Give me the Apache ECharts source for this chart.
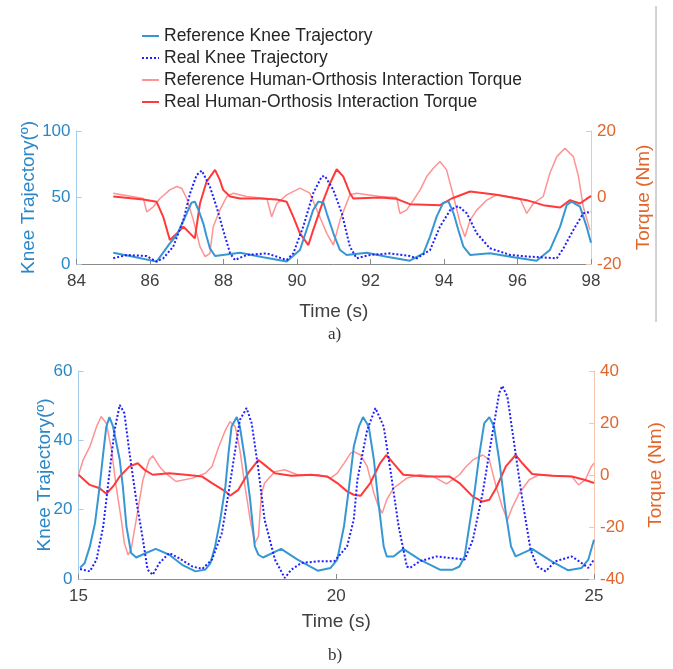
<!DOCTYPE html>
<html>
<head>
<meta charset="utf-8">
<script src="https://cdn.jsdelivr.net/npm/echarts@6/dist/echarts.min.js"></script>
<style>
  html, body { margin: 0; padding: 0; background: #fff; }
  #chart { width: 673px; height: 669px; }
</style>
</head>
<body>
<div id="chart"></div>
<script>
// ---- panel a) 84 - 98 s ----
const aRefKneeT = [85.00, 85.55, 86.18, 86.54, 86.73, 87.00, 87.13, 87.22, 87.32, 87.45, 87.54, 87.63, 87.77, 88.45, 89.08, 89.72, 90.08, 90.26, 90.44, 90.58, 90.72, 90.81, 90.99, 91.17, 91.35, 91.90, 92.44, 93.07, 93.44, 93.62, 93.80, 93.98, 94.12, 94.26, 94.39, 94.53, 94.71, 95.25, 95.89, 96.52, 96.88, 97.16, 97.34, 97.47, 97.70, 97.88, 98.00];
const aRefKneeV = [8.5, 5.5, 1.8, 15.5, 21.8, 38.1, 46.1, 46.9, 40.6, 30.6, 20.6, 11.8, 6.0, 8.5, 5.0, 1.8, 10.5, 25.6, 40.6, 46.9, 46.1, 38.1, 23.1, 10.5, 6.8, 8.5, 5.5, 2.5, 8.0, 20.6, 35.6, 46.1, 47.1, 38.1, 25.6, 13.0, 6.8, 8.0, 5.0, 2.5, 10.5, 28.1, 44.4, 46.9, 43.1, 28.1, 16.0];

const aRealKneeT = [85.00, 85.37, 85.91, 86.18, 86.36, 86.63, 86.91, 87.09, 87.27, 87.41, 87.63, 87.81, 87.99, 88.18, 88.31, 88.63, 89.18, 89.72, 89.90, 90.17, 90.44, 90.67, 90.76, 90.99, 91.22, 91.44, 91.62, 91.99, 92.53, 93.07, 93.26, 93.62, 93.89, 94.17, 94.39, 94.62, 94.89, 95.25, 95.80, 96.34, 97.07, 97.25, 97.52, 97.79, 98.00];
const aRealKneeV = [4.3, 6.8, 6.0, 1.8, 4.3, 13.0, 33.1, 53.1, 66.9, 70.2, 58.1, 43.1, 25.6, 8.0, 3.0, 6.8, 8.0, 3.0, 8.0, 28.1, 53.1, 65.7, 66.2, 55.6, 38.1, 13.0, 4.3, 6.8, 8.0, 6.0, 4.3, 10.5, 28.1, 40.6, 43.6, 38.1, 23.1, 11.8, 6.8, 5.5, 4.3, 11.8, 25.6, 38.1, 39.3];

const aRefTorqueT = [85.00, 85.82, 85.91, 86.09, 86.27, 86.54, 86.73, 86.86, 87.00, 87.18, 87.36, 87.50, 87.63, 87.72, 87.90, 88.09, 88.27, 88.63, 89.18, 89.31, 89.45, 89.72, 90.08, 90.35, 90.58, 90.81, 90.99, 91.17, 91.44, 91.62, 92.26, 92.71, 92.80, 92.98, 93.17, 93.35, 93.53, 93.71, 93.89, 94.07, 94.26, 94.44, 94.57, 94.71, 94.89, 95.16, 95.43, 96.07, 96.25, 96.43, 96.70, 96.88, 97.07, 97.29, 97.52, 97.66, 97.79, 97.97];
const aRefTorqueV = [1.3, -0.3, -4.3, -2.8, -0.3, 2.3, 3.3, 2.8, -0.3, -6.8, -14.8, -17.8, -16.8, -8.8, -3.8, 0.3, 1.3, 0.3, -0.3, -5.8, -1.8, 0.8, 2.8, 1.3, -4.8, -10.8, -14.3, -6.8, 0.8, 1.3, 0.3, 0.0, -4.8, -3.8, -0.8, 2.3, 6.3, 8.8, 10.8, 8.3, 0.3, -7.8, -11.8, -6.8, -3.8, -0.8, 0.8, -0.3, -4.8, -1.8, 0.3, 7.3, 12.3, 14.8, 12.3, 6.3, -2.8, -9.8];

const aRealTorqueT = [85.00, 85.82, 86.18, 86.36, 86.54, 86.73, 86.91, 87.09, 87.22, 87.36, 87.54, 87.77, 87.90, 87.99, 88.18, 88.45, 88.99, 89.45, 89.72, 89.90, 90.08, 90.31, 90.44, 90.72, 90.90, 91.08, 91.26, 91.44, 91.53, 92.26, 92.71, 93.07, 93.89, 94.21, 94.71, 95.43, 96.25, 96.70, 97.16, 97.43, 97.70, 98.00];
const aRealTorqueV = [0.3, -0.6, -1.3, -5.8, -12.8, -10.8, -8.8, -10.8, -12.3, -1.8, 4.8, 8.3, 5.3, 2.3, 0.3, -0.3, -0.3, -0.6, -1.3, -5.8, -10.8, -14.3, -9.8, -0.8, 4.3, 8.5, 6.3, 1.3, -0.3, 0.0, -0.4, -2.0, -2.3, -0.3, 1.8, 0.8, -0.8, -2.3, -3.0, -0.8, -1.8, 0.5];

// ---- panel b) 15 - 25 s ----
const bRefKneeT = [15.03, 15.12, 15.22, 15.32, 15.41, 15.48, 15.54, 15.60, 15.67, 15.80, 15.86, 15.93, 16.02, 16.12, 16.31, 16.50, 16.76, 17.01, 17.27, 17.46, 17.56, 17.65, 17.75, 17.85, 17.91, 17.97, 18.07, 18.13, 18.23, 18.33, 18.42, 18.49, 18.58, 18.93, 19.25, 19.64, 19.89, 20.02, 20.15, 20.25, 20.34, 20.44, 20.52, 20.63, 20.73, 20.82, 20.92, 20.98, 21.11, 21.30, 21.62, 22.01, 22.26, 22.39, 22.49, 22.58, 22.68, 22.78, 22.87, 22.97, 23.06, 23.16, 23.29, 23.39, 23.48, 23.80, 24.18, 24.50, 24.76, 24.89, 25.00];
const bRefKneeV = [3.2, 4.6, 9.4, 16.1, 26.7, 36.3, 44.0, 46.7, 44.0, 34.4, 26.7, 15.2, 7.5, 6.2, 7.5, 8.7, 7.0, 4.1, 2.2, 2.7, 4.6, 9.4, 17.1, 26.7, 36.3, 44.0, 46.7, 44.0, 34.4, 22.8, 9.4, 7.0, 6.2, 8.7, 5.6, 2.4, 3.2, 5.6, 15.2, 26.7, 38.2, 44.0, 46.7, 44.0, 34.4, 21.9, 9.4, 6.5, 6.5, 8.7, 5.6, 2.7, 2.7, 3.6, 6.5, 15.2, 24.8, 36.3, 44.9, 46.7, 44.0, 34.4, 19.0, 9.4, 6.5, 8.7, 5.1, 2.5, 3.2, 5.6, 11.3];

const bRealKneeT = [15.03, 15.22, 15.35, 15.48, 15.60, 15.70, 15.80, 15.89, 15.99, 16.12, 16.25, 16.34, 16.44, 16.57, 16.76, 16.95, 17.21, 17.40, 17.59, 17.78, 17.91, 18.04, 18.13, 18.26, 18.36, 18.49, 18.61, 18.81, 19.00, 19.13, 19.32, 19.64, 19.96, 20.21, 20.34, 20.41, 20.60, 20.76, 20.92, 21.05, 21.21, 21.37, 21.43, 21.62, 21.94, 22.26, 22.49, 22.65, 22.84, 23.03, 23.16, 23.22, 23.32, 23.45, 23.61, 23.77, 23.90, 24.06, 24.25, 24.57, 24.76, 24.89, 25.00];
const bRealKneeV = [2.9, 2.2, 5.6, 15.2, 30.5, 43.0, 50.2, 47.8, 36.3, 22.8, 11.3, 2.7, 1.2, 4.6, 7.5, 6.0, 3.6, 2.9, 5.6, 13.2, 24.8, 37.2, 45.9, 49.3, 44.9, 31.5, 17.1, 5.6, 0.3, 2.7, 4.6, 5.1, 5.1, 9.4, 17.1, 28.6, 43.0, 49.3, 44.0, 31.5, 15.2, 3.6, 3.2, 5.1, 6.5, 6.0, 5.6, 11.3, 24.8, 42.0, 53.6, 55.7, 52.6, 39.2, 22.8, 8.4, 3.6, 2.2, 5.1, 6.5, 4.6, 3.2, 5.6];

const bRefTorqueT = [15.00, 15.09, 15.22, 15.35, 15.44, 15.54, 15.64, 15.73, 15.83, 15.89, 15.96, 16.02, 16.12, 16.25, 16.37, 16.44, 16.57, 16.69, 16.89, 17.21, 17.46, 17.59, 17.72, 17.85, 17.94, 18.04, 18.13, 18.23, 18.33, 18.42, 18.49, 18.55, 18.61, 18.81, 19.00, 19.25, 19.64, 19.89, 20.02, 20.15, 20.28, 20.34, 20.47, 20.60, 20.73, 20.82, 20.89, 20.98, 21.11, 21.37, 21.62, 21.88, 22.14, 22.39, 22.52, 22.65, 22.84, 22.97, 23.10, 23.22, 23.32, 23.42, 23.55, 23.74, 23.93, 24.31, 24.57, 24.70, 24.83, 24.95, 25.00];
const bRefTorqueV = [0.1, 5.8, 10.9, 18.6, 22.5, 19.9, 9.7, -4.4, -17.2, -26.2, -30.7, -28.7, -17.2, -1.9, 5.8, 7.4, 3.3, 0.7, -2.5, -1.2, 0.7, 3.3, 10.9, 17.3, 20.5, 18.6, 9.7, -4.4, -17.2, -26.2, -23.6, -7.0, -3.1, 1.3, 2.0, 0.1, 0.1, -1.2, 0.7, 4.5, 8.4, 9.0, 7.7, 3.3, -7.0, -12.2, -14.7, -9.5, -5.1, -1.2, 0.1, -0.6, -3.4, 0.1, 3.3, 5.8, 7.7, 5.8, -4.4, -12.2, -17.3, -12.2, -7.0, -1.9, 0.1, -0.3, -0.6, -3.8, -1.9, 3.3, 4.5];

const bRealTorqueT = [15.00, 15.22, 15.41, 15.54, 15.67, 15.80, 15.99, 16.15, 16.28, 16.44, 16.76, 17.08, 17.40, 17.59, 17.85, 17.94, 18.10, 18.29, 18.49, 18.61, 18.81, 19.13, 19.51, 19.83, 20.02, 20.21, 20.34, 20.47, 20.66, 20.85, 20.97, 21.11, 21.30, 21.75, 22.20, 22.39, 22.65, 22.84, 22.97, 23.10, 23.29, 23.48, 23.61, 23.80, 24.18, 24.57, 24.83, 25.00];
const bRealTorqueV = [0.1, -3.8, -5.1, -7.2, -4.4, -0.6, 3.3, 4.5, 2.0, 0.1, 0.7, 0.1, -0.6, -3.1, -6.3, -8.0, -5.7, 0.7, 5.8, 3.9, 0.7, -0.3, 0.1, -0.6, -3.1, -6.3, -7.6, -8.0, -3.1, 4.5, 7.7, 4.5, 0.1, -0.6, -0.6, -3.1, -8.3, -10.2, -9.5, -5.1, 3.3, 7.7, 4.5, 0.4, -0.3, -0.6, -1.9, -3.1];

const aXTicks = { min: 84, max: 98, interval: 2 };
const bXTicks = { min: 15, max: 25, interval: 5 };
const aKneeTicks = { min: 0, max: 100, interval: 50 };
const aTorqueTicks = { min: -20, max: 20, interval: 20 };
const bKneeTicks = { min: 0, max: 60, interval: 20 };
const bTorqueTicks = { min: -40, max: 40, interval: 20 };

const names = [
  "Reference Knee Trajectory",
  "Real Knee Trajectory",
  "Reference Human-Orthosis Interaction Torque",
  "Real Human-Orthosis Interaction Torque",
];

const FONT = "'Liberation Sans', Arial, sans-serif";
const blue = "#2a87c8";
const orange = "#e0662c";
const grey = "#404040";

function pairs(t, v) {
  return t.map((x, i) => [x, v[i]]);
}

function xAxis(grid, ticks, gap) {
  return {
    type: "value",
    gridIndex: grid,
    min: ticks.min,
    max: ticks.max,
    interval: ticks.interval,
    name: "Time (s)",
    nameLocation: "middle",
    nameGap: gap,
    nameMoveOverlap: false,
    nameTextStyle: { color: grey, fontSize: 19, fontFamily: FONT },
    axisLine: { lineStyle: { color: "#8a8a8a", width: 1 } },
    axisTick: { inside: true, length: 5, lineStyle: { color: "#8a8a8a" } },
    axisLabel: { color: grey, fontSize: 17, fontFamily: FONT, margin: 9 },
    splitLine: { show: false },
  };
}

function yAxis(grid, ticks, right, gap) {
  const c = right ? orange : blue;
  return {
    type: "value",
    gridIndex: grid,
    position: right ? "right" : "left",
    min: ticks.min,
    max: ticks.max,
    interval: ticks.interval,
    name: right ? "Torque (Nm)" : "Knee Trajectory(º)",
    nameLocation: "middle",
    nameRotate: 90,
    nameGap: gap,
    nameMoveOverlap: false,
    nameTextStyle: { color: c, fontSize: 19, fontFamily: FONT },
    axisLine: { show: true, lineStyle: { color: right ? "#f7c4ad" : "#a3cdec", width: 1 } },
    axisTick: { show: true, inside: true, length: 5, lineStyle: { color: right ? "#f7c4ad" : "#a3cdec" } },
    axisLabel: { color: c, fontSize: 17, fontFamily: FONT, margin: 6 },
    splitLine: { show: false },
  };
}

function lines(xi, yk, yt, rk, rkv, kk, kkv, rt, rtv, tt, ttv) {
  return [
    { name: names[0], type: "line", xAxisIndex: xi, yAxisIndex: yk, symbol: "none",
      data: pairs(rk, rkv), lineStyle: { color: "#3797d3", width: 2 }, itemStyle: { color: "#3797d3" }, z: 4 },
    { name: names[1], type: "line", xAxisIndex: xi, yAxisIndex: yk, symbol: "none",
      data: pairs(kk, kkv), lineStyle: { color: "#1f1fff", width: 2, type: [2, 2] }, itemStyle: { color: "#1f1fff" }, z: 5 },
    { name: names[2], type: "line", xAxisIndex: xi, yAxisIndex: yt, symbol: "none",
      data: pairs(rt, rtv), lineStyle: { color: "#ff9393", width: 1.5 }, itemStyle: { color: "#ff9393" }, z: 2 },
    { name: names[3], type: "line", xAxisIndex: xi, yAxisIndex: yt, symbol: "none",
      data: pairs(tt, ttv), lineStyle: { color: "#ff3a3a", width: 2 }, itemStyle: { color: "#ff3a3a" }, z: 3 },
  ];
}

const chart = echarts.init(document.getElementById("chart"));
chart.setOption({
  backgroundColor: "#fff",
  animation: false,
  legend: {
    data: names,
    orient: "vertical",
    left: 136,
    top: 22,
    itemWidth: 17,
    itemHeight: 14,
    itemGap: 4,
    itemStyle: { opacity: 0 },
    textStyle: { color: "#262626", fontSize: 17.5, fontFamily: FONT },
  },
  grid: [
    { left: 76.5, top: 131, width: 514.5, height: 133 },
    { left: 78.5, top: 371, width: 521, height: 208 },
  ],
  xAxis: [xAxis(0, aXTicks, 38), xAxis(1, bXTicks, 33)],
  yAxis: [
    yAxis(0, aKneeTicks, false, 38),
    yAxis(0, aTorqueTicks, true, 43),
    yAxis(1, bKneeTicks, false, 24),
    yAxis(1, bTorqueTicks, true, 52),
  ],
  series: [
    ...lines(0, 0, 1, aRefKneeT, aRefKneeV, aRealKneeT, aRealKneeV, aRefTorqueT, aRefTorqueV, aRealTorqueT, aRealTorqueV),
    ...lines(1, 2, 3, bRefKneeT, bRefKneeV, bRealKneeT, bRealKneeV, bRefTorqueT, bRefTorqueV, bRealTorqueT, bRealTorqueV),
  ],
  graphic: [
    { type: "line", shape: { x1: 656, y1: 6, x2: 656, y2: 322 }, style: { stroke: "#a6a6a6", lineWidth: 1 } },
    { type: "text", left: 328, top: 326, style: { text: "a)", fill: "#333", font: "17px 'Liberation Serif', serif" } },
    { type: "text", left: 328, top: 647, style: { text: "b)", fill: "#333", font: "17px 'Liberation Serif', serif" } },
  ],
});
</script>
</body>
</html>
